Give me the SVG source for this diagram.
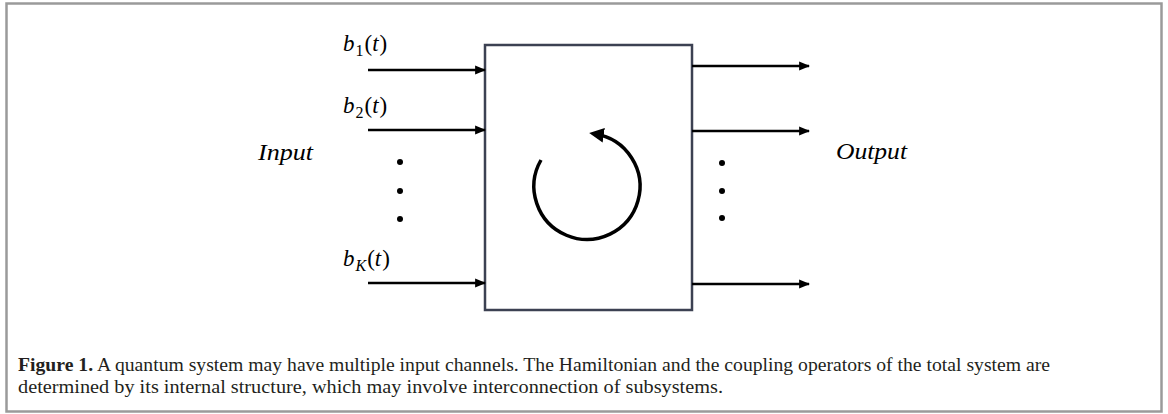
<svg xmlns="http://www.w3.org/2000/svg" width="1168" height="414" viewBox="0 0 1168 414">
<style>
.frame{fill:#fff;stroke:#9a9a9a;stroke-width:2.5}
.box{fill:#fff;stroke:#3c4152;stroke-width:2.5}
.wire{stroke:#000;stroke-width:2.5;fill:none}
.math{font-family:"Liberation Serif","DejaVu Serif",serif;font-size:23px;fill:#000}
.it{font-style:italic}
.cap{font-family:"Liberation Serif","DejaVu Serif",serif;font-size:18.5px;fill:#231f20}
.dot{fill:#000}
</style>
<defs>
<marker id="ah" viewBox="0 0 10 10" refX="9" refY="5" markerWidth="4.4" markerHeight="4.4" orient="auto" markerUnits="strokeWidth">
<path d="M0,1 L10,5 L0,9 Z" fill="#000"/>
</marker>
<marker id="ah2" viewBox="0 0 10 10" refX="6" refY="5" markerWidth="4.2" markerHeight="4.2" orient="auto" markerUnits="strokeWidth">
<path d="M0,0 L10,5 L0,10 Z" fill="#000"/>
</marker>
</defs>
<rect class="frame" x="6.5" y="3.5" width="1155" height="408"/>
<g id="system">
<rect class="box" x="485" y="45" width="207" height="265"/>
<path class="wire" style="stroke-width:3.5" d="M541,160 A53,53 0 1 0 595,134" marker-end="url(#ah2)"/>
</g>
<g id="connectors">
<line class="wire" x1="368" y1="70" x2="485" y2="70" marker-end="url(#ah)"/>
<line class="wire" x1="368" y1="130" x2="485" y2="130" marker-end="url(#ah)"/>
<line class="wire" x1="368" y1="283" x2="485" y2="283" marker-end="url(#ah)"/>
<line class="wire" x1="692" y1="66" x2="809" y2="66" marker-end="url(#ah)"/>
<line class="wire" x1="692" y1="131" x2="809" y2="131" marker-end="url(#ah)"/>
<line class="wire" x1="692" y1="284" x2="809" y2="284" marker-end="url(#ah)"/>
</g>
<g id="input-labels">
<text class="math" x="343" y="51"><tspan class="it">b</tspan><tspan font-size="16" dy="5" dx="1">1</tspan><tspan dy="-5" dx="1">(</tspan><tspan class="it">t</tspan><tspan dx="1">)</tspan></text>
<text class="math" x="343" y="113"><tspan class="it">b</tspan><tspan font-size="16" dy="5" dx="1">2</tspan><tspan dy="-5" dx="1">(</tspan><tspan class="it">t</tspan><tspan dx="1">)</tspan></text>
<text class="math" x="343" y="266"><tspan class="it">b</tspan><tspan font-size="16" font-style="italic" dy="5" dx="1">K</tspan><tspan dy="-5" dx="1">(</tspan><tspan class="it">t</tspan><tspan dx="1">)</tspan></text>
<text class="math it" x="258" y="160" textLength="55" lengthAdjust="spacingAndGlyphs">Input</text>
<circle class="dot" cx="400" cy="162" r="3"/>
<circle class="dot" cx="400" cy="191" r="3"/>
<circle class="dot" cx="400" cy="219" r="3"/>
</g>
<g id="output-labels">
<text class="math it" x="836" y="159" textLength="71" lengthAdjust="spacingAndGlyphs">Output</text>
<circle class="dot" cx="722" cy="163" r="3"/>
<circle class="dot" cx="722" cy="191" r="3"/>
<circle class="dot" cx="722" cy="218" r="3"/>
</g>
<g id="caption">
<text class="cap" x="18" y="371" textLength="1032" lengthAdjust="spacingAndGlyphs"><tspan font-weight="bold">Figure 1.</tspan> A quantum system may have multiple input channels. The Hamiltonian and the coupling operators of the total system are</text>
<text class="cap" x="18" y="393" textLength="705" lengthAdjust="spacingAndGlyphs">determined by its internal structure, which may involve interconnection of subsystems.</text>
</g>
</svg>
